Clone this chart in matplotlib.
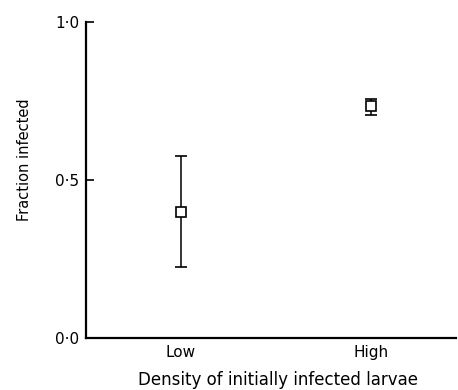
import matplotlib
matplotlib.use("Agg")
import matplotlib.pyplot as plt
from matplotlib.ticker import FixedLocator, FixedFormatter

categories = ["Low", "High"]
fraction = [0.40, 0.735]
lower = [0.225, 0.706]
upper = [0.576, 0.756]
ytick_values = [0.0, 0.5, 1.0]
ytick_labels = ["0·0", "0·5", "1·0"]

plt.rcParams['font.family'] = ['DejaVu Sans']

fig = plt.figure(figsize=(4.58, 3.90), dpi=100)
ax = fig.add_axes([86/458, 1-338/390, 370/458, 316/390])

xs = list(range(len(categories)))
yerr = [[f - l for f, l in zip(fraction, lower)], [u - f for f, u in zip(fraction, upper)]]
ax.errorbar(xs, fraction, yerr=yerr, fmt='s', mfc='white', mec='black', mew=1.2,
            ms=6.5, ecolor='black', elinewidth=1.1, capsize=4.3, capthick=1.1, zorder=3)

ax.set_xlim(-0.5, 1.45)
ax.set_ylim(0, 1)
ax.spines['top'].set_visible(False)
ax.spines['right'].set_visible(False)
ax.spines['left'].set_linewidth(1.6)
ax.spines['bottom'].set_linewidth(1.6)

ax.yaxis.set_major_locator(FixedLocator(ytick_values))
ax.yaxis.set_major_formatter(FixedFormatter(ytick_labels))
ax.tick_params(axis='y', direction='in', length=6, width=1.2, labelsize=11, pad=5)
ax.set_xticks(xs)
ax.set_xticklabels(categories)
ax.tick_params(axis='x', length=0, labelsize=11, pad=5)

ax.set_ylabel("Fraction infected", fontsize=10.5)
ax.yaxis.set_label_coords((32 - 86) / 370, (338 - 160) / 316)
fig.text(278/458, 1-380/390, "Density of initially infected larvae", ha='center', va='center', fontsize=12)

fig.savefig("out.png", dpi=100)
